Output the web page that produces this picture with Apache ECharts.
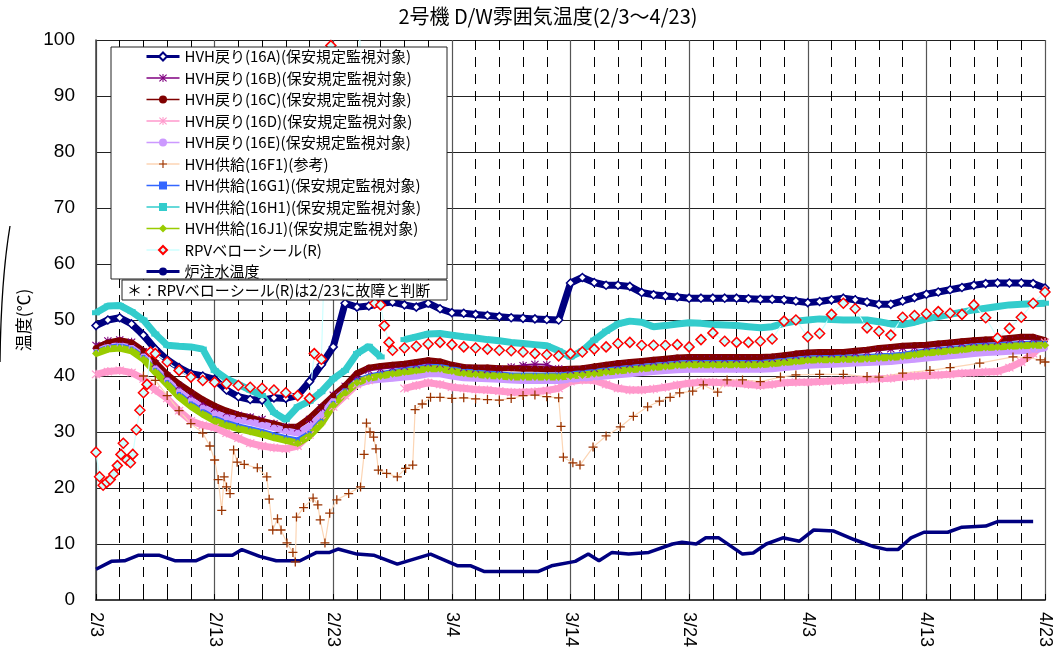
<!DOCTYPE html>
<html><head><meta charset="utf-8">
<script src="https://cdn.jsdelivr.net/npm/echarts@6/dist/echarts.min.js"></script>
<style>html,body{margin:0;padding:0;background:#fff}#c{width:1057px;height:661px}</style>
</head><body><div id="c"></div>
<script>
const xTickLabels = ['2/3','2/13','2/23','3/4','3/14','3/24','4/3','4/13','4/23'];
const days = [0,1,2,3,4,5,6,7,8,9,10,11,12,13,14,15,16,17,18,19,20,21,22,23,24,25,26,27,28,29,30,31,32,33,34,35,36,37,38,39,40,41,42,43,44,45,46,47,48,49,50,51,52,53,54,55,56,57,58,59,60,61,62,63,64,65,66,67,68,69,70,71,72,73,74,75,76,77,78,79,80];
const seriesNames = ['HVH戻り(16A)(保安規定監視対象)','HVH戻り(16B)(保安規定監視対象)','HVH戻り(16C)(保安規定監視対象)','HVH戻り(16D)(保安規定監視対象)','HVH戻り(16E)(保安規定監視対象)','HVH供給(16F1)(参考)','HVH供給(16G1)(保安規定監視対象)','HVH供給(16H1)(保安規定監視対象)','HVH供給(16J1)(保安規定監視対象)','RPVベローシール(R)','炉注水温度'];

const hvh16A = [49,50,50.4,49.3,47.3,44.8,42.9,41.5,40.4,40,
 39.4,37.5,36.3,35.8,35.7,36.1,36,36.5,39,42,
 45.2,53,52.3,52.5,53,53.2,52.7,52.3,53,52,
 51.3,51.2,51,50.8,50.6,50.4,50.3,50.2,50.1,50,
 56.6,57.6,56.7,56.2,56.2,56,54.9,54.5,54.3,54.1,
 53.9,53.9,53.9,53.9,53.9,53.8,53.7,53.7,53.6,53.4,
 53.1,53.3,53.6,53.9,53.6,53.2,52.8,52.8,53.4,54,
 54.6,55,55.4,55.8,56.2,56.5,56.6,56.6,56.6,56.5,55.7];
const hvh16B = [45.5,46.3,46.5,46.1,44.4,42.2,40,38.2,36.6,35.2,
 34.2,33.4,33,32.7,32.3,31.5,30.9,30.7,32.3,34.4,
 36.6,38.2,40,41,41.3,41.5,41.7,42,42.3,42.1,
 41.7,41.4,41.2,41.1,41.2,41.6,41.9,42.1,42,41.3,
 41,41.1,41.3,41.6,41.9,42.1,42.3,42.5,42.7,42.9,
 43,43,43,43,43,43,43,43.1,43.3,43.6,
 43.8,43.9,43.9,43.9,44.1,44.3,44.6,44.8,45,45.1,
 45.2,45.4,45.6,45.8,46,46.1,46.2,46.4,46.6,46.6,46];
const hvh16C = [45,46,46.4,46,44.5,42.5,40.3,38.6,37.2,35.8,
 34.7,33.8,33.1,32.6,32,31.5,30.9,31,32.5,34.5,
 36.5,38.3,40.5,41.5,41.8,42,42.2,42.5,42.8,42.6,
 42,41.6,41.5,41.5,41.4,41.4,41.3,41.3,41.2,41.2,
 41.3,41.4,41.7,42,42.3,42.5,42.7,42.9,43.1,43.3,
 43.4,43.4,43.4,43.4,43.4,43.4,43.4,43.5,43.7,44,
 44.2,44.3,44.3,44.3,44.5,44.7,45,45.2,45.4,45.5,
 45.6,45.8,46,46.2,46.4,46.5,46.6,46.8,47,47,46.4];
const hvh16D = [40.3,40.8,41,40.6,39.5,37.5,36,33.8,32,31.2,
 30.8,29.8,28.9,28,27.5,27.2,27,27.5,29.5,32,
 34.5,36.5,38.5,39.2,null,null,37.8,38.3,38.8,38.5,
 38,37.8,37.6,37.5,37.3,37.1,37.1,37.2,37.4,37.8,
 39,39.3,39.2,38.5,37.8,37.5,37.5,37.7,38,38.4,
 38.7,38.9,38.9,38.8,38.7,38.5,38.3,38.5,38.8,38.9,
 38.9,39,39.1,39.2,39.3,39.4,39.5,39.6,39.8,40,
 40.1,40.2,40.3,40.5,40.6,40.7,40.8,41.5,42.5,44,46];
const hvh16E = [44.3,45.2,45.4,45,43.5,41.3,39.2,37.2,35.6,34.3,
 33.3,32.6,32.2,31.8,31.3,30.8,30.2,29.8,31,33,
 35.5,37.2,38.6,39.2,39.4,39.6,39.8,40,40.4,40.4,
 40,39.7,39.6,39.5,39.4,39.3,39.2,39.2,39.2,39.2,
 39.4,39.6,39.8,40,40.2,40.4,40.6,40.8,41,41.1,
 41.2,41.2,41.2,41.2,41.2,41.2,41.2,41.3,41.5,41.7,
 41.9,42,42.1,42.2,42.3,42.4,42.5,42.6,42.8,43,
 43.2,43.4,43.6,43.8,44,44.2,44.3,44.4,44.5,44.7,45];
const f1Days = [4,5,6,7,8,9,9.6,10,10.3,10.6,10.8,11,11.3,11.6,11.9,12.5,13.6,14.4,14.6,14.9,15.3,15.6,16.1,16.6,16.8,16.9,17.5,18.3,18.7,18.9,19.3,19.7,20.3,21.3,22.3,22.6,22.8,23.1,23.4,23.6,23.8,24.5,25.4,26.1,26.7,26.9,27.5,28.2,29,30,31,32,33,34,35,36,37,38,39,39.2,39.4,40.2,40.8,41.9,43,44.2,45.3,46.5,47.5,48.4,49.2,50.3,51.2,52.4,53.2,54.5,56,57.7,59,61,63,65,66,68,70.3,72,74.5,77.3,78.5,79.6,80];
const hvh16F1 = [40,39.2,36.5,33.8,31.5,29.8,27.5,25,21.5,16,22,20.2,19,26.8,24.6,24.2,23.6,22,18,12.5,14.5,12.5,10.2,8.5,6.8,14.8,16.5,18.2,17,14.3,10.2,15.5,17.9,19,20.2,26,31.6,30,29.1,27,23.2,22.6,22,23.5,24.1,34,35,36.2,36.2,36,36.1,35.9,35.8,35.7,36,36.5,36.6,36.3,36.1,31,25.5,24.5,24.1,27.3,29.3,30.9,32.8,34.5,35.5,36.2,37,37.3,38.4,37.1,39.3,39.3,39,39.8,40.2,40.3,40.3,39.9,39.8,40.5,41,41.5,42.3,43.4,43.3,42.9,42.5];
const hvh16G1 = [44.3,45.1,45.4,44.9,43.4,41.1,38.9,36.8,35.1,33.7,
 32.5,31.7,31.1,30.6,30.1,29.5,29,28.6,29.8,32,
 35.2,37.4,39.2,40,40.4,40.8,41.1,41.4,41.7,41.7,
 41.3,40.9,40.7,40.5,40.4,40.2,40.2,40.2,40.2,40.2,
 40.4,40.6,40.8,41.1,41.3,41.5,41.7,41.9,42.1,42.3,
 42.4,42.4,42.4,42.4,42.4,42.4,42.4,42.6,42.8,43,
 43.2,43.3,43.3,43.4,43.4,43.5,43.6,43.7,43.9,44.2,
 44.5,44.7,44.9,45.1,45.4,45.5,45.6,45.7,45.8,45.9,45.9];
const hvh16H1 = [51.3,52.5,52.6,51.5,50,47.5,45.5,45.3,45.2,44.8,
 41,39.5,38.5,37.5,36.5,33.5,32.2,34.5,35.5,37.2,
 39.5,41,44,45.3,43.4,null,46.5,47,47.5,47.6,
 47.3,47,46.8,46.5,46.3,46,45.8,45.6,45.4,44.5,
 43.4,44.5,46.4,48,49.3,49.8,49.6,48.8,49,49.3,
 49.5,49.4,49.2,49.1,49,48.8,48.6,48.8,49.4,49.8,
 50,50.2,50.1,50,50,50,49.7,49.3,49.2,49.6,
 50.2,50.6,51,51.4,51.8,52.1,52.4,52.7,52.8,52.9,53];
const hvh16J1 = [44,44.8,45,44.5,43,40.7,38.5,36.3,34.6,33.2,
 32,31.2,30.6,30.1,29.6,29,28.5,28,29.3,31.5,
 34.8,37,38.8,39.6,40,40.4,40.7,41,41.3,41.3,
 40.9,40.5,40.3,40.1,40,39.8,39.8,39.8,39.8,39.8,
 40,40.2,40.4,40.7,40.9,41.1,41.3,41.5,41.7,41.9,
 42,42,42,42,42,42,42,42.2,42.4,42.6,
 42.8,42.9,42.9,43,43,43.1,43.2,43.3,43.5,43.8,
 44.1,44.3,44.5,44.7,45,45.1,45.2,45.3,45.4,45.5,45.5];
const rpvDays = [0,0.3,0.6,0.9,1.2,1.5,1.8,2.1,2.3,2.6,2.9,3.1,3.4,3.7,4,4.3,4.6,5,6,7,8,9,10,11,12,13,14,15,16,17,18,18.4,19,19.8,20.5,22,22.6,23.5,24,24.3,24.7,25,26,27,28,29,30,31,32,33,34,35,36,37,38,39,40,41,42,43,44,45,46,47,48,49,50,51,52,53,54,55,56,57,58,59,60,61,62,63,64,65,66,67,68,69,70,71,72,73,74,75,76,77,78,79,80];
const rpvBellows = [26.4,22,20.5,21,21.5,22.5,24,26,28,25,24.5,26,30.4,33.9,37,38.5,44.3,44,42.5,41,39.8,39.2,
 38.9,38.6,38.3,38,37.8,37.5,37,36.5,36,44,43,99,130,130,56,53,52.7,49,46,44.6,45,45.3,45.7,46,
 45.6,45.2,45,44.8,44.6,44.5,44.3,44,43.8,43.6,
 44,44.3,44.8,45.2,45.8,46,45.5,45.5,45.5,45.6,
 45.2,46.5,47.7,46.2,46,46,46.2,46.6,49.8,50,
 47,47.6,51,53,52,48.6,48,47.3,50.5,50.8,
 51.1,51.5,51.2,51,52.7,50.4,46.8,48.5,50.5,53,55];
const injDays = [0,1.3,2.4,3.6,5.3,6.7,8.4,9.5,11.5,12.3,13.8,15.2,17.2,18.6,19.7,20.4,22,23.4,25.4,28.2,30.5,31.6,32.7,37.3,38.4,40.4,41.5,42.4,43.5,44.9,46.6,48.6,49.4,50.6,51.4,52.5,54.5,55.4,56.5,57.9,59.3,60.5,62.2,63.9,65.6,66.7,67.6,68.7,69.8,71.8,73,75,76,79];
const injWaterTemp = [5.5,6.9,7,8,8,7,7,8,8,9,7.8,7,7,8.5,8.5,9.1,8.2,8,6.4,8.2,6.1,6.1,5.1,5.1,6.1,6.9,8.2,7,8.5,8.2,8.5,10,10.3,10,11.1,11.1,8.2,8.4,10,11.1,10.5,12.5,12.3,10.8,9.5,9,9,11.1,12.1,12.1,13,13.2,14,14];

const pair = (xs, ys) => xs.map((x, i) => [x, ys[i]]);
const PLUS = 'path://M-0.7,-5 H0.7 V-0.7 H5 V0.7 H0.7 V5 H-0.7 V0.7 H-5 V-0.7 H-0.7 Z';
const STAR = 'path://M-0.6,-5 H0.6 V5 H-0.6 Z M-4.6,-3.7 L-3.7,-4.6 L4.6,3.7 L3.7,4.6 Z M3.7,-4.6 L4.6,-3.7 L-3.7,4.6 L-4.6,3.7 Z';
const JP = '"Noto Sans CJK JP", sans-serif';

function mk(i, data, o) {
  return Object.assign({
    name: seriesNames[i], type: 'line', data: data, showSymbol: true,
    connectNulls: false, animation: false, clip: true
  }, o);
}
const series = [
  mk(0, pair(days, hvh16A), {symbol:'diamond', symbolSize:8, lineStyle:{color:'#000080', width:7}, itemStyle:{color:'#ffffff', borderColor:'#000080', borderWidth:1.5}}),
  mk(1, pair(days, hvh16B), {symbol:STAR, symbolSize:8, lineStyle:{color:'#800080', width:2}, itemStyle:{color:'#800080'}}),
  mk(2, pair(days, hvh16C), {symbol:'circle', symbolSize:6, lineStyle:{color:'#800000', width:6}, itemStyle:{color:'#800000'}}),
  mk(3, pair(days, hvh16D), {symbol:STAR, symbolSize:9, lineStyle:{color:'#ff99cc', width:7}, itemStyle:{color:'#ff99cc'}}),
  mk(4, pair(days, hvh16E), {symbol:'circle', symbolSize:6, lineStyle:{color:'#cc99ff', width:7}, itemStyle:{color:'#cc99ff'}}),
  mk(5, pair(f1Days, hvh16F1), {symbol:PLUS, symbolSize:9, lineStyle:{color:'#fcd5b4', width:1.2}, itemStyle:{color:'#993300'}}),
  mk(6, pair(days, hvh16G1), {symbol:'rect', symbolSize:4, lineStyle:{color:'#3366ff', width:5}, itemStyle:{color:'#3366ff'}}),
  mk(7, pair(days, hvh16H1), {symbol:'rect', symbolSize:[8,5], lineStyle:{color:'#33cccc', width:7}, itemStyle:{color:'#33cccc'}}),
  mk(8, pair(days, hvh16J1), {symbol:'diamond', symbolSize:8, lineStyle:{color:'#99cc00', width:7}, itemStyle:{color:'#99cc00'}}),
  mk(9, pair(rpvDays, rpvBellows), {symbol:'diamond', symbolSize:10, lineStyle:{color:'#ccffff', width:1.2}, itemStyle:{color:'#ccffff', borderColor:'#ff0000', borderWidth:1.5}}),
  mk(10, pair(injDays, injWaterTemp), {showSymbol:false, symbol:'none', lineStyle:{color:'#000080', width:3.5}, itemStyle:{color:'#000080'}})
];

const legendData = seriesNames.map((n, i) => ({
  name: n,
  lineStyle: {width: (i === 0 || i === 10) ? 3 : 1.5}
}));

const chart = echarts.init(document.getElementById('c'), null, {renderer: 'canvas'});
chart.setOption({
  animation: false,
  backgroundColor: '#ffffff',
  grid: {left: 96, right: 12, top: 40, bottom: 61, containLabel: false},
  xAxis: {
    type: 'value', min: 0, max: 80, interval: 10,
    axisLine: {show: true, onZero: false, lineStyle: {color: '#404040', width: 2}},
    axisTick: {show: true, inside: true, length: 6, lineStyle: {color: '#000'}},
    minorTick: {show: true, splitNumber: 5, length: 6, lineStyle: {color: '#000'}},
    axisLabel: {rotate: -90, margin: 12, fontSize: 18, color: '#000', fontFamily: 'Liberation Sans',
      formatter: v => xTickLabels[Math.round(v / 10)] || ''},
    splitLine: {show: true, lineStyle: {color: '#555', width: 1.2}},
    minorSplitLine: {show: true, lineStyle: {color: '#000', width: 1, type: [10, 7]}}
  },
  yAxis: {
    type: 'value', min: 0, max: 100, interval: 10,
    name: '温度(℃)', nameLocation: 'middle', nameRotate: 90, nameGap: 54,
    nameTextStyle: {fontSize: 17, color: '#000', fontFamily: JP},
    axisLine: {show: true, lineStyle: {color: '#404040', width: 1.5}},
    axisTick: {show: false},
    axisLabel: {fontSize: 19, color: '#000', margin: 21, fontFamily: 'Liberation Sans'},
    splitLine: {show: true, lineStyle: {color: '#222', width: 1.2}}
  },
  legend: {
    orient: 'vertical', left: 145, top: 49, padding: 0,
    itemWidth: 33, itemHeight: 10, itemGap: 6.5,
    textStyle: {fontSize: 15, color: '#000', fontFamily: JP, padding: [0,0,0,0]},
    data: legendData, z: 6
  },
  series: series,
  graphic: [
    {type: 'rect', z: 5, shape: {x: 111, y: 47, width: 336, height: 232}, style: {fill: '#fff', stroke: '#222', lineWidth: 1}},
    {type: 'rect', z: 7, shape: {x: 122, y: 280, width: 325, height: 20}, style: {fill: '#fff', stroke: '#222', lineWidth: 1}},
    {type: 'text', z: 8, x: 127, y: 290, style: {text: '＊：RPVベローシール(R)は2/23に故障と判断', fill: '#000', font: '15px "Noto Sans CJK JP"', verticalAlign: 'middle', align: 'left'}},
    {type: 'text', z: 8, x: 548, y: 16, style: {text: '2号機 D/W雰囲気温度(2/3〜4/23)', fill: '#000', font: '20px "Noto Sans CJK JP"', verticalAlign: 'middle', align: 'center'}},
    {type: 'bezierCurve', z: 8, shape: {x1: 10, y1: 226, cpx1: 1, cpy1: 280, x2: 0, y2: 362}, style: {stroke: '#000', lineWidth: 1.3, fill: null}}
  ]
});
</script>
</body></html>
